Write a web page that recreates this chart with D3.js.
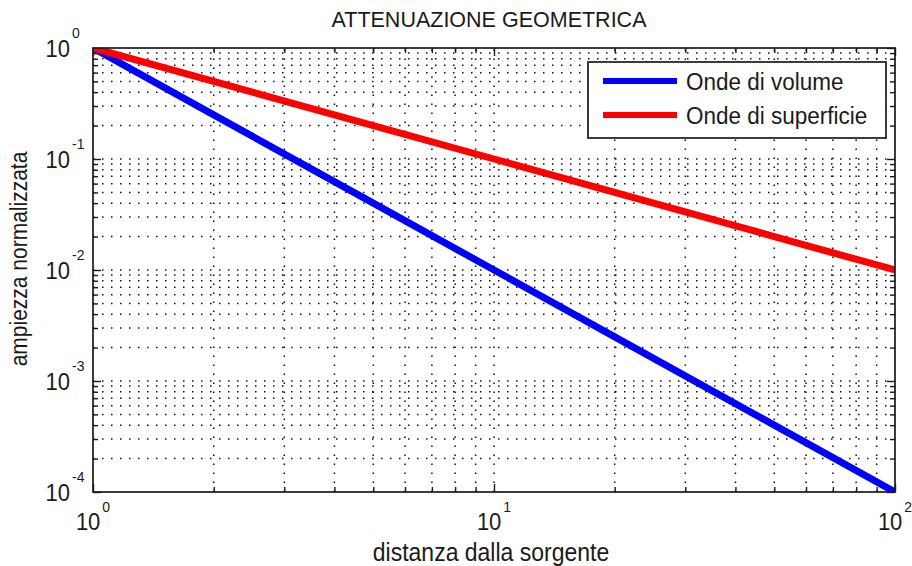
<!DOCTYPE html>
<html>
<head>
<meta charset="utf-8">
<script src="https://cdn.jsdelivr.net/npm/d3@7/dist/d3.min.js"></script>
<style>
  html, body { margin: 0; padding: 0; background: #fff; }
  svg { display: block; }
  text { font-family: "Liberation Sans", Arial, sans-serif; fill: #1a1a1a; }
</style>
</head>
<body>
<svg id="chart" width="912" height="566"></svg>
<script>
// Distance from the source (normalised) and amplitude for each wave type
const distances = [1, 2, 5, 10, 20, 50, 100];
const bodyWaves = [1, 0.25, 0.04, 0.01, 0.0025, 0.0004, 0.0001];      // ~ 1/r^2
const surfaceWaves = [1, 0.5, 0.2, 0.1, 0.05, 0.02, 0.01];          // ~ 1/r
const seriesNames = ["Onde di volume", "Onde di superficie"];
const xTickExponents = [0, 1, 2];
const yTickExponents = [0, -1, -2, -3, -4];
const titleText = "ATTENUAZIONE GEOMETRICA";
const xLabelText = "distanza dalla sorgente";
const yLabelText = "ampiezza normalizzata";

const W = 912, H = 566;
const m = { left: 93, right: 895, top: 48, bottom: 492 };
const colors = ["#0000ff", "#ff0000"];
const stretch = 1.1;   // axis texts are drawn slightly tall

const svg = d3.select("#chart");

const x = d3.scaleLog().domain([1, 100]).range([m.left, m.right]);
const y = d3.scaleLog().domain([1e-4, 1]).range([m.bottom, m.top]);

// minor positions (2..9 within every decade)
function minorValues(lo, hi) {
  const out = [];
  for (let e = lo; e < hi; e++) {
    for (let k = 2; k <= 9; k++) out.push(k * Math.pow(10, e));
  }
  return out;
}
const xMajor = xTickExponents.map(e => Math.pow(10, e));
const yMajor = yTickExponents.map(e => Math.pow(10, e));
const xMinor = minorValues(0, 2);
const yMinor = minorValues(-4, 0);

const plotW = m.right - m.left, plotH = m.bottom - m.top;

// dotted grid
const grid = svg.append("g")
  .attr("stroke", "#111")
  .attr("stroke-width", 1.5)
  .attr("stroke-dasharray", "1.5,7.5")
  .attr("fill", "none");

xMinor.concat(xMajor.slice(1, -1)).forEach(v => {
  grid.append("line")
    .attr("x1", x(v)).attr("x2", x(v))
    .attr("y1", m.bottom).attr("y2", m.top);
});
yMinor.concat(yMajor.slice(1, -1)).forEach(v => {
  grid.append("line")
    .attr("x1", m.left).attr("x2", m.right)
    .attr("y1", y(v)).attr("y2", y(v));
});

// axes with inward ticks on all four sides
const majorLen = 8, minorLen = 5;
function tickAxis(axisGen, transform) {
  const g = svg.append("g").attr("transform", transform).call(axisGen);
  g.select(".domain").remove();
  g.selectAll("text").remove();
  g.selectAll(".tick line").attr("stroke", "#1a1a1a").attr("stroke-width", 1.4);
  return g;
}
tickAxis(d3.axisBottom(x).tickValues(xMajor).tickSize(-majorLen), `translate(0,${m.bottom})`);
tickAxis(d3.axisBottom(x).tickValues(xMinor).tickSize(-minorLen), `translate(0,${m.bottom})`);
tickAxis(d3.axisTop(x).tickValues(xMajor).tickSize(-majorLen), `translate(0,${m.top})`);
tickAxis(d3.axisTop(x).tickValues(xMinor).tickSize(-minorLen), `translate(0,${m.top})`);
tickAxis(d3.axisLeft(y).tickValues(yMajor).tickSize(-majorLen), `translate(${m.left},0)`);
tickAxis(d3.axisLeft(y).tickValues(yMinor).tickSize(-minorLen), `translate(${m.left},0)`);
tickAxis(d3.axisRight(y).tickValues(yMajor).tickSize(-majorLen), `translate(${m.right},0)`);
tickAxis(d3.axisRight(y).tickValues(yMinor).tickSize(-minorLen), `translate(${m.right},0)`);

// curves, clipped to the axes box
svg.append("clipPath").attr("id", "plotClip")
  .append("rect").attr("x", m.left).attr("y", m.top)
  .attr("width", plotW).attr("height", plotH);

const line = d3.line().x(d => x(d[0])).y(d => y(d[1]));
const series = [bodyWaves, surfaceWaves];
const curves = svg.append("g").attr("clip-path", "url(#plotClip)");
series.forEach((vals, i) => {
  curves.append("path")
    .datum(distances.map((d, j) => [d, vals[j]]))
    .attr("d", line)
    .attr("fill", "none")
    .attr("stroke", colors[i])
    .attr("stroke-width", 7)
    .attr("stroke-linecap", "butt");
});

// axes box
svg.append("rect")
  .attr("x", m.left).attr("y", m.top)
  .attr("width", plotW).attr("height", plotH)
  .attr("fill", "none").attr("stroke", "#1a1a1a").attr("stroke-width", 1.7);

// helper: text placed at (px,py) with a slight vertical stretch
function tallText(px, py, size, anchor) {
  return svg.append("text")
    .attr("transform", `translate(${px},${py}) scale(1,${stretch})`)
    .attr("text-anchor", anchor)
    .style("font-size", size + "px");
}

// tick labels: 10 with superscript exponent
const baseSize = 22, expSize = 14;
xTickExponents.forEach(e => {
  const t = tallText(x(Math.pow(10, e)), 530, baseSize, "middle");
  t.append("tspan").text("10");
  t.append("tspan").attr("dy", -16).attr("dx", 2).style("font-size", expSize + "px").text(e);
});
yTickExponents.forEach(e => {
  const ty = y(Math.pow(10, e));
  tallText(70, ty + 9, baseSize, "end").text("10");
  tallText(72, ty - 10, expSize, "start").text(e);
});

// title and axis labels
svg.append("text")
  .attr("x", 489).attr("y", 27)
  .attr("text-anchor", "middle")
  .style("font-size", "21.5px")
  .text(titleText);

tallText(491, 561, 23, "middle").text(xLabelText);

svg.append("text")
  .attr("transform", `translate(27,259) rotate(-90) scale(1,${stretch})`)
  .attr("text-anchor", "middle")
  .style("font-size", "21px")
  .text(yLabelText);

// legend
const lg = svg.append("g");
lg.append("rect")
  .attr("x", 588).attr("y", 62).attr("width", 298).attr("height", 76)
  .attr("fill", "#fff").attr("stroke", "#1a1a1a").attr("stroke-width", 1.7);
const rowY = [81, 115];
seriesNames.forEach((name, i) => {
  lg.append("line")
    .attr("x1", 603).attr("x2", 677)
    .attr("y1", rowY[i]).attr("y2", rowY[i])
    .attr("stroke", colors[i]).attr("stroke-width", 6);
  lg.append("text")
    .attr("transform", `translate(686,${rowY[i] + 9}) scale(1,${stretch})`)
    .style("font-size", "22.5px")
    .text(name);
});
</script>
</body>
</html>
